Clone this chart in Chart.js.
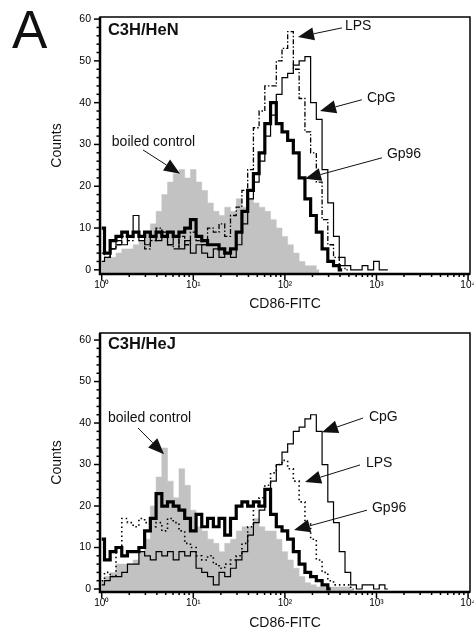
<!DOCTYPE html>
<html><head><meta charset="utf-8">
<script src="https://cdn.jsdelivr.net/npm/chart.js@4.4.1/dist/chart.umd.min.js"></script>
<style>
html,body{margin:0;padding:0;background:#fff;}
#wrap{position:relative;width:474px;height:632px;overflow:hidden;background:#fff;}
.panel{position:absolute;left:0;width:474px;height:316px;}
#letter{position:absolute;left:12px;top:3px;font:53px/1 "Liberation Sans",Arial,sans-serif;color:#111;}
</style></head><body>
<div id="wrap">
<div class="panel" style="top:0"><canvas id="c1" width="474" height="316"></canvas></div>
<div class="panel" style="top:316px"><canvas id="c2" width="474" height="316"></canvas></div>
<div id="letter">A</div>
</div>
<script>
// ---- data ----
const channels = [1.00,1.15,1.33,1.54,1.78,2.05,2.37,2.74,3.16,3.65,4.22,4.87,5.62,6.49,7.50,8.66,
  10.0,11.5,13.3,15.4,17.8,20.5,23.7,27.4,31.6,36.5,42.2,48.7,56.2,64.9,75.0,86.6,
  100,115,133,154,178,205,237,274,316,365,422,487,562,649,750,866,1000,1150,1330];

// C3H/HeN
const henBoiled = [2,3,3,4,5,5,6,7,9,11, 14,18,21,23,24,22,24,21,19,16, 14,13,15,14,17,15,17,16,15,14, 12,10,8,6,4,2,1,1,0];
const henGp96   = [10,4,7,8,9,8,9,8,9,8, 9,8,9,8,9,10,12,8,7,6, 6,5,4,5,9,14,19,23,28,35, 40,35,33,31,28,22,17,13,9,5, 2,1,0];
const henCpG    = [2,3,5,7,6,8,13,7,6,8, 7,9,6,8,5,7,4,6,4,3, 5,3,4,3,6,11,17,21,26,32, 37,42,46,47,49,50,51,40,36,24, 16,8,3,1,0,0,1,0,2,0,0];
const henLPS    = [4,3,5,6,8,7,9,8,5,7, 10,9,6,5,8,6,9,7,6,10, 9,11,8,13,15,19,24,34,38,44, 44,50,53,57,48,41,33,28,21,12, 6,3,1,0];

// C3H/HeJ
const hejBoiled = [2,3,4,6,6,6,7,9,12,20, 27,34,26,22,29,25,19,15,14,12, 11,9,11,12,14,15,15,17,15,14, 14,12,9,7,5,3,1.5,1,0.5,0.5, 0.5,0.5,0.5,0.5,0];
const hejGp96   = [12,7,9,10,8,9,9,10,14,17, 23,20,21,20,19,17,14,18,15,17, 15,17,13,17,20,21,20,21,20,24, 18,15,14,12,9,6,4,3,2,1, 0];
const hejCpG    = [1,2,3,3,4,6,6,9,8,7, 9,8,9,7,9,8,9,5,4,3, 1,4,3,5,7,9,13,16,19,24, 26,30,33,35,38,39,41,42,38,30, 21,16,9,4,1,0,1,1,0,1,0];
const hejLPS    = [2,4,3,10,17,16,15,17,16,15, 16,14,17,16,14,11,10,8,7,8, 6,5,6,7,8,11,15,20,22,25, 28,30,31,29,26,21,16,12,7,4, 2,1,1,1,0];

const xTickValues = [1, 10, 100, 1000, 10000];
const xTickLabels = ['10\u2070','10\u00B9','10\u00B2','10\u00B3','10\u2074'];
const yTickValues = [0, 10, 20, 30, 40, 50, 60];

const henNotes = [
  {text:'C3H/HeN', at:[1.17,57.4], bold:true},
  {text:'LPS', at:[453,58.4], tail:[420,57.9], tip:[139,55.7]},
  {text:'CpG', at:[787,41.1], tail:[694,40.7], tip:[242,38.0]},
  {text:'Gp96', at:[1300,27.8], tail:[1148,26.8], tip:[166,21.8]},
  {text:'boiled control', at:[1.29,30.6], tail:[2.82,28.7], tip:[7.16,23.0]}
];
const hejNotes = [
  {text:'C3H/HeJ', at:[1.17,59.0], bold:true},
  {text:'boiled control', at:[1.17,41.2], tail:[2.49,38.8], tip:[4.79,32.5]},
  {text:'CpG', at:[828,41.4], tail:[713,41.2], tip:[254,37.8]},
  {text:'LPS', at:[767,30.4], tail:[661,29.9], tip:[166,25.8]},
  {text:'Gp96', at:[893,19.5], tail:[787,19.0], tip:[126,14.2]}
];

// ---- drawing ----
const FONT = '"Liberation Sans", Arial, Helvetica, sans-serif';
Chart.defaults.font.family = FONT;
Chart.defaults.color = '#000';

function pts(vals){ return vals.map((v,i)=>({x: channels[i], y: v})); }

const framePlugin = {
  id: 'frame',
  afterDatasetsDraw(chart, args, opts){
    const {ctx, chartArea:a} = chart;
    const xs = chart.scales.x, ys = chart.scales.y;
    ctx.save();
    ctx.strokeStyle = '#000';
    ctx.fillStyle = '#000';
    // x tick marks (log decades, 2..9 minors)
    ctx.lineWidth = 1.5;
    for (let k = 0; k <= 3; k++) {
      for (let m = 1; m <= 9; m++) {
        const v = m * Math.pow(10, k);
        const px = xs.getPixelForValue(v);
        const len = m === 1 ? 6 : 3;
        ctx.beginPath(); ctx.moveTo(px, a.bottom); ctx.lineTo(px, a.bottom + len); ctx.stroke();
      }
    }
    { const px = xs.getPixelForValue(10000);
      ctx.beginPath(); ctx.moveTo(px, a.bottom); ctx.lineTo(px, a.bottom + 6); ctx.stroke(); }
    // y tick marks
    for (let v = 0; v <= 60; v += 2) {
      const py = ys.getPixelForValue(v);
      const len = v % 10 === 0 ? 6 : 3.5;
      ctx.beginPath(); ctx.moveTo(a.left, py); ctx.lineTo(a.left - len, py); ctx.stroke();
    }
    // frame
    ctx.lineWidth = 1.5;
    ctx.strokeRect(a.left, a.top, a.right - a.left, a.bottom - a.top);
    ctx.lineWidth = 2.5;
    ctx.beginPath(); ctx.moveTo(a.left, a.top); ctx.lineTo(a.left, a.bottom); ctx.lineTo(a.right, a.bottom); ctx.stroke();

    // annotations
    ctx.textBaseline = 'middle';
    ctx.textAlign = 'left';
    for (const n of (opts.notes || [])) {
      const tx = xs.getPixelForValue(n.at[0]), ty = ys.getPixelForValue(n.at[1]);
      ctx.font = (n.bold ? 'bold 16.5px ' : '14px ') + FONT;
      ctx.fillStyle = '#111';
      ctx.fillText(n.text, tx, ty);
      if (n.tail) {
        const x0 = xs.getPixelForValue(n.tail[0]), y0 = ys.getPixelForValue(n.tail[1]);
        const x1 = xs.getPixelForValue(n.tip[0]), y1 = ys.getPixelForValue(n.tip[1]);
        const dx = x1 - x0, dy = y1 - y0, d = Math.hypot(dx, dy);
        const ux = dx / d, uy = dy / d;
        const L = 16, W = 6.5;
        const bx = x1 - ux * L, by = y1 - uy * L;
        ctx.lineWidth = 1;
        ctx.strokeStyle = '#111';
        ctx.beginPath(); ctx.moveTo(x0, y0); ctx.lineTo(bx, by); ctx.stroke();
        ctx.fillStyle = '#111';
        ctx.beginPath();
        ctx.moveTo(x1, y1);
        ctx.lineTo(bx - uy * W, by + ux * W);
        ctx.lineTo(bx + uy * W, by - ux * W);
        ctx.closePath(); ctx.fill();
      }
    }
    ctx.restore();
  }
};

function makeChart(id, series, notes, lpsDash, yMin, yMax, padBottom, xHeight) {
  return new Chart(document.getElementById(id), {
    type: 'line',
    data: { datasets: [
      { label: 'boiled control', data: pts(series.boiled), order: 4, stepped: 'middle',
        borderColor: '#c2c2c2', borderWidth: 0.5, backgroundColor: '#c2c2c2', fill: 'start', pointRadius: 0 },
      { label: 'Gp96', data: pts(series.gp96), order: 3, stepped: 'middle',
        borderColor: '#000', borderWidth: 3.2, fill: false, pointRadius: 0 },
      { label: 'CpG', data: pts(series.cpg), order: 2, stepped: 'middle',
        borderColor: '#000', borderWidth: 1.2, fill: false, pointRadius: 0 },
      { label: 'LPS', data: pts(series.lps), order: 1, stepped: 'middle',
        borderColor: '#000', borderWidth: lpsDash.w, borderDash: lpsDash.dash, fill: false, pointRadius: 0 }
    ]},
    options: {
      responsive: false, animation: false, devicePixelRatio: 1,
      layout: { padding: { left: 48.6, right: 4, top: 17, bottom: padBottom } },
      plugins: { legend: { display: false }, tooltip: { enabled: false }, frame: { notes } },
      scales: {
        x: {
          type: 'logarithmic', min: 0.958, max: 10500,
          afterBuildTicks: s => { s.ticks = xTickValues.map(v => ({ value: v })); },
          afterFit: s => { s.height = xHeight; s.paddingLeft = 0; s.paddingRight = 0; },
          ticks: { autoSkip: false, maxRotation: 0, padding: 5, font: { size: 10 }, color: '#000',
                   callback: (v, i) => xTickLabels[i] },
          grid: { display: false, drawTicks: false },
          border: { display: false },
          title: { display: true, text: 'CD86-FITC', font: { size: 14 }, color: '#111', padding: { top: 0, bottom: 0 } }
        },
        y: {
          type: 'linear', min: yMin, max: yMax,
          afterBuildTicks: s => { s.ticks = yTickValues.map(v => ({ value: v })); },
          afterFit: s => { s.width = 51.4; s.paddingTop = 0; s.paddingBottom = 0; },
          ticks: { padding: 9, font: { size: 10.5 }, color: '#000', callback: v => String(v) },
          grid: { display: false, drawTicks: false },
          border: { display: false },
          title: { display: true, text: 'Counts', font: { size: 14 }, color: '#111', padding: { top: 0, bottom: 0 } }
        }
      }
    },
    plugins: [framePlugin]
  });
}

makeChart('c1', { boiled: henBoiled, gp96: henGp96, cpg: henCpG, lps: henLPS }, henNotes,
  { w: 1.3, dash: [5, 2, 1.5, 2] }, -1, 60.5, 3.6, 38.4);
makeChart('c2', { boiled: hejBoiled, gp96: hejGp96, cpg: hejCpG, lps: hejLPS }, hejNotes,
  { w: 1.6, dash: [1.5, 3] }, -0.72, 61.7, 0.6, 39.4);
</script>
</body></html>
